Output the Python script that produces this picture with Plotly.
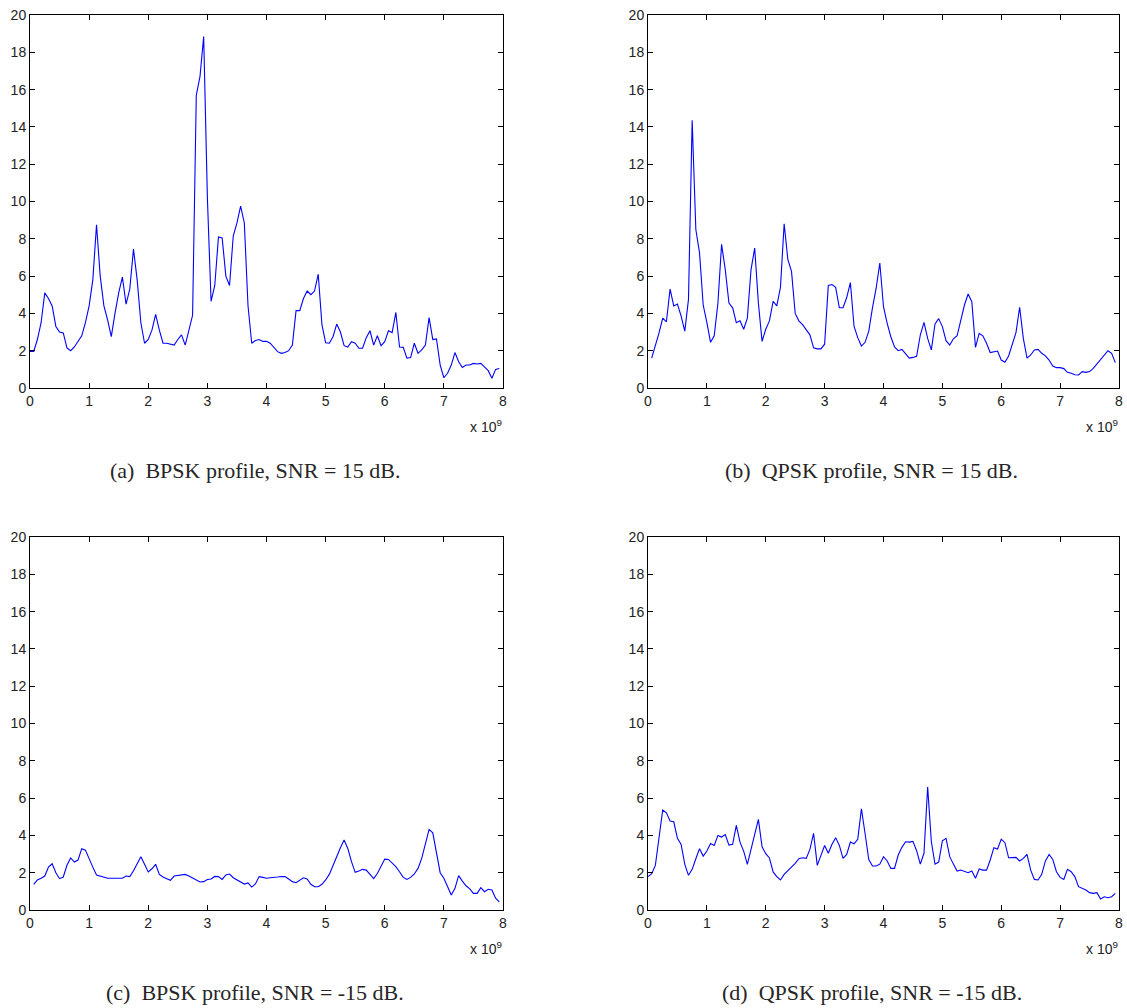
import numpy as np
import plotly.graph_objects as go

# Frequency grid: 62.5 MHz bins
STEP_HZ = 62.5e6

# Spectral profile values (one value per bin)
bpsk_hi = [1.96, 1.96, 2.6, 3.5, 5.1, 4.8, 4.4, 3.3, 3.0, 2.95, 2.15, 2.0, 2.2, 2.5, 2.8, 3.5,
           4.4, 5.8, 8.75, 6.0, 4.4, 3.65, 2.75, 4.0, 5.1, 5.95, 4.5, 5.3, 7.45, 5.8, 3.5, 2.4,
           2.6, 3.1, 3.95, 3.1, 2.4, 2.4, 2.35, 2.3, 2.6, 2.85, 2.3, 3.1, 3.9, 15.7, 16.7, 18.85,
           10.2, 4.65, 5.5, 8.1, 8.05, 6.0, 5.5, 8.15, 8.85, 9.75, 8.85, 4.4, 2.4, 2.55, 2.6, 2.5,
           2.5, 2.4, 2.2, 1.95, 1.86, 1.9, 2.0, 2.3, 4.15, 4.15, 4.8, 5.2, 5.0, 5.2, 6.1, 3.4,
           2.43, 2.4, 2.75, 3.43, 3.0, 2.27, 2.2, 2.48, 2.4, 2.13, 2.13, 2.7, 3.07, 2.3, 2.8, 2.27,
           2.48, 3.07, 2.97, 4.05, 2.2, 2.18, 1.6, 1.63, 2.4, 1.86, 2.04, 2.3, 3.77, 2.6, 2.63, 1.23,
           0.55, 0.79, 1.23, 1.9, 1.41, 1.1, 1.23, 1.23, 1.32, 1.29, 1.32, 1.1, 0.93, 0.52, 1.0, 1.05]

qpsk_hi = [1.6, 2.24, 2.95, 3.75, 3.55, 5.3, 4.4, 4.5, 3.85, 3.05, 4.75, 14.35, 8.5, 7.25, 4.45,
           3.5, 2.45, 2.8, 4.55, 7.7, 6.35, 4.55, 4.3, 3.5, 3.6, 3.15, 3.75, 6.35, 7.5, 4.55, 2.5,
           3.15, 3.6, 4.65, 4.4, 5.4, 8.8, 6.9, 6.25, 4.0, 3.6, 3.4, 3.15, 2.85, 2.15, 2.1, 2.1,
           2.35, 5.5, 5.55, 5.4, 4.3, 4.3, 4.85, 5.65, 3.3, 2.7, 2.25, 2.45, 3.05, 4.3, 5.35, 6.7,
           4.36, 3.47, 2.75, 2.2, 2.0, 2.07, 1.86, 1.6, 1.64, 1.7, 2.84, 3.52, 2.66, 2.04, 3.43,
           3.72, 3.29, 2.54, 2.3, 2.64, 2.8, 3.65, 4.45, 5.04, 4.63, 2.18, 2.93, 2.8, 2.4, 1.9,
           1.95, 1.98, 1.5, 1.38, 1.72, 2.36, 2.97, 4.33, 2.66, 1.6, 1.77, 2.04, 2.07, 1.86, 1.72,
           1.5, 1.18, 1.09, 1.09, 1.04, 0.84, 0.79, 0.71, 0.7, 0.88, 0.84, 0.88, 1.05, 1.29, 1.55,
           1.82, 2.0, 1.86, 1.36]

bpsk_lo = [1.375, 1.61, 1.7, 1.82, 2.3, 2.48, 2.0, 1.68, 1.77, 2.4, 2.79, 2.57, 2.68, 3.29, 3.21,
           2.71, 2.3, 1.88, 1.82, 1.77, 1.7, 1.7, 1.71, 1.68, 1.7, 1.82, 1.79, 2.1, 2.45, 2.86,
           2.45, 2.04, 2.21, 2.45, 1.91, 1.77, 1.68, 1.59, 1.82, 1.86, 1.91, 1.91, 1.82, 1.7, 1.59,
           1.5, 1.52, 1.64, 1.66, 1.8, 1.79, 1.64, 1.88, 1.93, 1.73, 1.61, 1.5, 1.39, 1.45, 1.23,
           1.4, 1.79, 1.75, 1.7, 1.73, 1.73, 1.77, 1.8, 1.79, 1.66, 1.52, 1.46, 1.61, 1.73, 1.66,
           1.38, 1.25, 1.25, 1.38, 1.61, 1.91, 2.41, 2.89, 3.34, 3.75, 3.3, 2.59, 2.02, 2.09, 2.18,
           2.14, 1.91, 1.68, 1.96, 2.36, 2.73, 2.71, 2.54, 2.32, 2.05, 1.75, 1.64, 1.75, 1.93, 2.23,
           2.77, 3.48, 4.32, 4.14, 3.13, 2.0, 1.7, 1.29, 0.8, 1.16, 1.84, 1.55, 1.3, 1.13, 0.89,
           0.89, 1.2, 0.98, 1.11, 1.07, 0.63, 0.43]

qpsk_lo = [1.79, 1.95, 2.39, 3.88, 5.36, 5.21, 4.77, 4.73, 3.84, 3.52, 2.45, 1.86, 2.18, 2.75,
           3.29, 2.89, 3.16, 3.57, 3.46, 4.0, 3.91, 4.04, 3.48, 3.52, 4.54, 3.64, 3.16, 2.45, 3.29,
           4.05, 4.86, 3.39, 3.02, 2.79, 2.04, 1.79, 1.61, 1.91, 2.09, 2.27, 2.5, 2.75, 2.8, 2.77,
           3.25, 4.11, 2.39, 2.93, 3.46, 3.04, 3.52, 3.88, 3.46, 2.77, 2.98, 3.64, 3.55, 3.79, 5.43,
           4.09, 2.71, 2.36, 2.36, 2.46, 2.86, 2.63, 2.23, 2.23, 2.95, 3.36, 3.66, 3.64, 3.68, 3.18,
           2.46, 3.04, 6.6, 3.66, 2.46, 2.57, 3.71, 3.84, 2.86, 2.46, 2.09, 2.14, 2.05, 2.0, 2.09,
           1.7, 2.2, 2.14, 2.14, 2.68, 3.34, 3.27, 3.8, 3.61, 2.8, 2.82, 2.82, 2.63, 2.77, 2.98,
           2.14, 1.64, 1.61, 1.91, 2.63, 2.98, 2.71, 2.05, 1.75, 1.64, 2.18, 2.05, 1.79, 1.25, 1.16,
           1.07, 0.93, 0.89, 0.93, 0.59, 0.71, 0.66, 0.71, 0.89]

# Caption, values and first bin index of each panel
panels = [
    ("(a)  BPSK profile, SNR = 15 dB.", bpsk_hi, 0),
    ("(b)  QPSK profile, SNR = 15 dB.", qpsk_hi, 1),
    ("(c)  BPSK profile, SNR = -15 dB.", bpsk_lo, 1),
    ("(d)  QPSK profile, SNR = -15 dB.", qpsk_lo, 0),
]

W, H = 1127, 1008
# Plot boxes in pixels: (left, right, top, bottom)
boxes = [(30, 503, 15, 388), (648, 1119, 15, 388),
         (30, 503, 537, 910), (648, 1119, 537, 910)]

x_ticks = [i * 1e9 for i in range(9)]
x_text = [str(i) for i in range(9)]
y_ticks = list(range(0, 21, 2))

fig = go.Figure()
tick_font = dict(family="Liberation Sans, Arial, sans-serif", size=14, color="#222222")
caption_font = dict(family="Liberation Serif, serif", size=22, color="#262626")

annotations = []
for i, ((caption, vals, start), (l, r, t, b)) in enumerate(zip(panels, boxes)):
    n = i + 1
    xa = "x" if n == 1 else f"x{n}"
    ya = "y" if n == 1 else f"y{n}"
    freq = (np.arange(len(vals)) + start) * STEP_HZ
    fig.add_trace(go.Scatter(x=freq, y=vals, mode="lines", xaxis=xa, yaxis=ya,
                             line=dict(color="#0000ff", width=1.1), showlegend=False,
                             hoverinfo="skip"))
    axis_common = dict(showline=True, linecolor="black", linewidth=1, mirror="ticks",
                       ticks="inside", ticklen=5, tickcolor="black", tickwidth=1,
                       showgrid=False, zeroline=False, automargin=False, tickfont=tick_font,
                       fixedrange=True)
    fig.layout[f"xaxis{'' if n == 1 else n}"] = dict(
        domain=[l / W, r / W], range=[0, 8e9], tickvals=x_ticks, ticktext=x_text,
        anchor=ya, **axis_common)
    fig.layout[f"yaxis{'' if n == 1 else n}"] = dict(
        domain=[1 - b / H, 1 - t / H], range=[0, 20], tickvals=y_ticks,
        anchor=xa, **axis_common)
    # exponent label under the right end of the x axis
    annotations.append(dict(x=(r + 1) / W, y=1 - (b + 38) / H, xref="paper", yref="paper",
                            text="x 10<sup>9</sup>", showarrow=False, xanchor="right",
                            yanchor="middle", font=tick_font))
    # caption under the panel
    annotations.append(dict(x=((l + r) / 2 - 12) / W, y=1 - (b + 82) / H,
                            xref="paper", yref="paper", text=caption, showarrow=False,
                            xanchor="center", yanchor="middle", font=caption_font))

fig.update_layout(width=W, height=H, margin=dict(l=0, r=0, t=0, b=0),
                  paper_bgcolor="white", plot_bgcolor="white", template="none",
                  annotations=annotations)

fig.write_html("out.html")
